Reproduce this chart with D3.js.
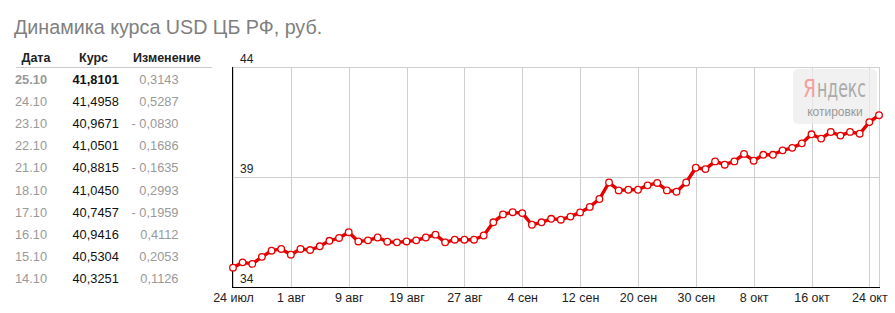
<!DOCTYPE html>
<html><head><meta charset="utf-8">
<script src="https://cdn.jsdelivr.net/npm/d3@7"></script>
<style>
body{margin:0;background:#fff;}
svg{display:block;font-family:"Liberation Sans",Arial,sans-serif;}
</style></head>
<body><svg id="c" width="895" height="313"></svg>
<script>
const title = "Динамика курса USD ЦБ РФ, руб.";
const dates = ["24.07","25.07","26.07","29.07","30.07","31.07","01.08","02.08","05.08","06.08","07.08","08.08","09.08","12.08","13.08","14.08","15.08","16.08","19.08","20.08","21.08","22.08","23.08","26.08","27.08","28.08","29.08","30.08","02.09","03.09","04.09","05.09","06.09","09.09","10.09","11.09","12.09","13.09","16.09","17.09","18.09","19.09","20.09","23.09","24.09","25.09","26.09","27.09","30.09","01.10","02.10","03.10","04.10","07.10","08.10","09.10","10.10","11.10","14.10","15.10","16.10","17.10","18.10","21.10","22.10","23.10","24.10","25.10"];
const rates = [34.88,35.12,35.05,35.37,35.65,35.73,35.47,35.73,35.68,35.85,36.10,36.23,36.49,36.07,36.12,36.25,36.06,36.03,36.07,36.12,36.25,36.38,36.03,36.15,36.15,36.15,36.34,36.94,37.30,37.40,37.36,36.83,36.94,37.10,37.06,37.20,37.39,37.64,38.00,38.75,38.39,38.42,38.42,38.62,38.73,38.39,38.33,38.75,39.42,39.36,39.71,39.56,39.71,40.05,39.74,40.01,40.01,40.2125,40.3251,40.5304,40.9416,40.7457,41.0450,40.8815,41.0501,40.9671,41.4958,41.8101];
const xTickIdx = [0,6,12,18,24,30,36,42,48,54,60,66];
const xTickLabels = ["24 июл","1 авг","9 авг","19 авг","27 авг","4 сен","12 сен","20 сен","30 сен","8 окт","16 окт","24 окт"];
const yTicks = [34,39,44];
const headers = ["Дата","Курс","Изменение"];
const tableDates = ["25.10","24.10","23.10","22.10","21.10","18.10","17.10","16.10","15.10","14.10"];
const tableRates = ["41,8101","41,4958","40,9671","41,0501","40,8815","41,0450","40,7457","40,9416","40,5304","40,3251"];
const tableChanges = ["0,3143","0,5287","- 0,0830","0,1686","- 0,1635","0,2993","- 0,1959","0,4112","0,2053","0,1126"];

const svg = d3.select("#c");
svg.append("text").attr("x",14).attr("y",33.5).attr("font-size",19.7).attr("fill","#7f7f7f").text(title);

// table
const tg = svg.append("g");
const hx = [21.5,79,133];
headers.forEach((h,i)=>tg.append("text").attr("x",hx[i]).attr("y",62).attr("font-size",12.5).attr("font-weight","bold").attr("fill","#222").text(h));
tg.append("line").attr("x1",16).attr("x2",212).attr("y1",67.5).attr("y2",67.5).attr("stroke","#ccc");
const rowY = d3.scaleLinear().domain([0,9]).range([84,283]);
tableDates.forEach((d,i)=>{
  const b = i===0 ? "bold":"normal";
  tg.append("text").attr("x",15).attr("y",rowY(i)).attr("font-size",12.8).attr("font-weight",b).attr("fill","#999").text(d);
  tg.append("text").attr("x",72.5).attr("y",rowY(i)).attr("font-size",12.8).attr("font-weight",b).attr("fill","#111").text(tableRates[i]);
  tg.append("text").attr("x",178.5).attr("y",rowY(i)).attr("text-anchor","end").attr("font-size",12.8).attr("fill","#999").text(tableChanges[i]);
});

// chart
const x = d3.scaleLinear().domain([0,rates.length-1]).range([233,879]);
const y = d3.scaleLinear().domain([34,44]).range([287,67]);
const g = svg.append("g");
// grid
g.selectAll(".vg").data(xTickIdx).enter().append("line")
  .attr("x1",d=>Math.round(x(d))+0.5).attr("x2",d=>Math.round(x(d))+0.5)
  .attr("y1",y(44)).attr("y2",y(34)).attr("stroke","#cfcfcf");
g.append("line").attr("x1",879.5).attr("x2",879.5).attr("y1",y(44)).attr("y2",y(34)).attr("stroke","#cfcfcf");
g.selectAll(".hg").data(yTicks).enter().append("line")
  .attr("x1",232).attr("x2",880).attr("y1",d=>Math.round(y(d))+0.5).attr("y2",d=>Math.round(y(d))+0.5).attr("stroke","#cfcfcf");
g.selectAll(".yl").data(yTicks).enter().append("text")
  .attr("x",240).attr("y",d=>y(d)-4).attr("font-size",12).attr("fill","#222").text(d=>d);

// yandex badge
const bg = svg.append("g");
const narrow = "'Liberation Sans Narrow','DejaVu Sans Condensed',sans-serif";
bg.append("rect").attr("x",793).attr("y",69).attr("width",84).attr("height",55).attr("rx",5).attr("fill","#ececec").attr("fill-opacity",0.75);
bg.append("text").attr("x",803).attr("y",96.5).attr("font-size",24).attr("font-family",narrow)
  .attr("textLength",13).attr("lengthAdjust","spacingAndGlyphs").attr("fill","#f2a0a0").text("Я");
bg.append("text").attr("x",817).attr("y",96.5).attr("font-size",24).attr("font-family",narrow)
  .attr("textLength",49).attr("lengthAdjust","spacingAndGlyphs").attr("fill","#aaa").text("ндекс");
bg.append("text").attr("x",835).attr("y",116).attr("text-anchor","middle").attr("font-size",12).attr("fill","#999").text("котировки");

// axes
const xAxis = d3.axisBottom(x).tickValues(xTickIdx).tickFormat((d,i)=>xTickLabels[i]).tickSize(0).tickPadding(6);
const ax = svg.append("g").attr("transform","translate(0,287.5)").call(xAxis);
ax.select(".domain").attr("stroke","#000").attr("d","M232,0H880");
ax.selectAll("text").attr("font-size",12.5).attr("fill","#222").attr("font-family","'Liberation Sans',Arial,sans-serif");
svg.append("line").attr("x1",232.5).attr("x2",232.5).attr("y1",y(44)).attr("y2",288).attr("stroke","#000");

// line
const line = d3.line().x((d,i)=>x(i)).y(d=>y(d));
svg.append("path").datum(rates).attr("d",line).attr("fill","none").attr("stroke","#e60000").attr("stroke-width",3.4).attr("stroke-linejoin","round");
svg.selectAll(".pt").data(rates).enter().append("circle")
  .attr("cx",(d,i)=>x(i)).attr("cy",d=>y(d)).attr("r",3.3).attr("fill","#fff").attr("stroke","#e60000").attr("stroke-width",1.3);
</script></body></html>
